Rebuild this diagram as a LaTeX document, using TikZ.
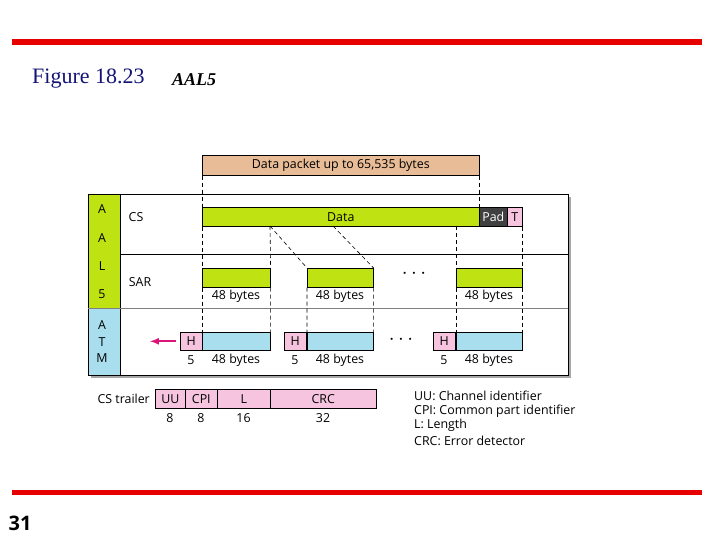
\documentclass[tikz,border=0pt]{standalone}
\usepackage{fontspec}
\setmainfont{Liberation Serif}
\newfontfamily\osf{Open Sans}
\begin{document}
\begin{tikzpicture}[x=1pt,y=-1pt,
  every node/.style={font=\osf\fontsize{12.4}{14}\selectfont,inner sep=0pt},
  bx/.style={draw=black,line width=0.6pt},
  dsh/.style={dashed,line width=0.6pt,dash pattern=on 4pt off 3pt}]
\definecolor{tan}{RGB}{232,188,150}
\definecolor{lg}{RGB}{190,226,18}
\definecolor{lb}{RGB}{168,222,238}
\definecolor{pk}{RGB}{246,196,222}
\definecolor{dg}{RGB}{64,64,64}
\definecolor{rd}{RGB}{230,0,0}
\definecolor{navy}{RGB}{20,20,120}
\definecolor{mag}{RGB}{220,20,120}
\useasboundingbox (0,0) rectangle (720,540);
\fill[rd] (12,39.5) rectangle (702,45);
\fill[rd] (12,489.5) rectangle (702,495);
\node[anchor=west,font=\fontsize{22}{24}\selectfont,text=navy] (ttl) at (32,79) {Figure 18.23};
\node[anchor=west,font=\bfseries\itshape\fontsize{18}{20}\selectfont] (sub) at (172,80) {AAL5};
\node[font=\osf\bfseries\fontsize{20}{22}\selectfont] (pg) at (20,523) {31};
% frame
\fill[gray!70] (91,197) rectangle (571,378);
\fill[white] (88,194) rectangle (568,375);
\fill[lg] (88,194) rectangle (120,308);
\fill[lb] (88,308) rectangle (120,375);
\draw[line width=0.6pt] (88,194) rectangle (568,375);
\draw (120,194) -- (120,375);
\draw (120,254) -- (568,254);
\draw[gray,line width=0.8pt] (88,308) -- (568,308);
\foreach \t/\y in {A/209,A/238,L/266,5/294,A/325,T/342,M/358} \node at (102,\y) {\t};
\node (cs) at (136,217) {CS};
\node (sar) at (140,282) {SAR};
% top packet
\node[bx,fill=tan,minimum width=277pt,minimum height=20pt,anchor=north west] (pkt) at (202,155) {Data packet up to 65,535 bytes};
\node[bx,fill=lg,minimum width=277pt,minimum height=19pt,anchor=north west] (data) at (202,207) {Data};
\node[bx,fill=dg,text=white,minimum width=28pt,minimum height=19pt,anchor=north west] (pad) at (479,207) {Pad};
\node[bx,fill=pk,minimum width=15pt,minimum height=19pt,anchor=north west] (t) at (507,207) {T};
% SAR
\foreach \n/\a/\b in {s1/202/270,s2/307/373,s3/456/522}{
  \node[bx,fill=lg,minimum width=\b pt-\a pt,minimum height=19pt,anchor=north west] (\n) at (\a,268) {};
  \node at ({(\a+\b)/2},296) {48 bytes};
  \node[bx,fill=lb,minimum width=\b pt-\a pt,minimum height=18pt,anchor=north west] (a\n) at (\a,332) {};
  \node at ({(\a+\b)/2},360) {48 bytes};
}
\foreach \n/\a in {h1/180,h2/284,h3/433}{
  \node[bx,fill=pk,minimum width=22pt,minimum height=18pt,anchor=north west] (\n) at (\a,332) {H};
  \node at (\a+11,360) {5};
}
\node[font=\bfseries\fontsize{20}{20}\selectfont] (d1) at (414,274) {$\cdots$};
\node[font=\bfseries\fontsize{20}{20}\selectfont] (d2) at (401,340) {$\cdots$};
\draw[mag,line width=2pt,-latex] (h1.west) ++(-4,0) -- ++(-26,0) coordinate (ae);
% dashed
\draw[dsh] (pkt.south west) -- (data.north west);
\draw[dsh] (pkt.south east) -- (data.north east);
\draw[dsh] (data.south west) -- (s1.north west) (s1.south west) -- (as1.north west);
\draw[dsh] (270,226) -- (s1.north east) (s1.south east) -- (as1.north east);
\draw[dsh] (270,226) -- (s2.north west) (s2.south west) -- (as2.north west);
\draw[dsh] (333,226) -- (s2.north east) (s2.south east) -- (as2.north east);
\draw[dsh] (456,226) -- (s3.north west) (s3.south west) -- (as3.north west);
\draw[dsh] (t.south east) -- (s3.north east) (s3.south east) -- (as3.north east);
% trailer
\node[anchor=east] (cst) at (150,399) {CS trailer};
\foreach \n/\a/\b/\t/\v in {uu/155/185/UU/8,cpi/185/217/CPI/8,l/217/270/L/16,crc/270/376/CRC/32}{
  \node[bx,fill=pk,minimum width=\b pt-\a pt,minimum height=19pt,anchor=north west] (\n) at (\a,389) {\t};
  \node at ({(\a+\b)/2},418) {\v};
}
\foreach \t/\y in {UU: Channel identifier/396,CPI: Common part identifier/411,L: Length/425,CRC: Error detector/441}
  \node[anchor=west] at (414,\y) {\t};
\end{tikzpicture}
\end{document}
